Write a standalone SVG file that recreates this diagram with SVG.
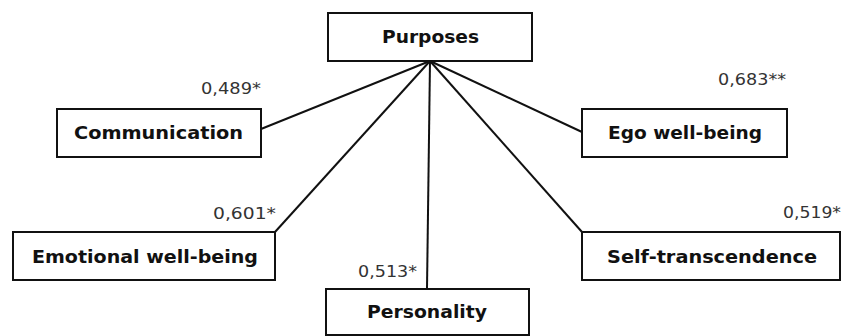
<svg xmlns="http://www.w3.org/2000/svg" width="842" height="336" viewBox="0 0 842 336">
<style>
.box{fill:#fff;stroke:#111;stroke-width:2}
.lbl{font-family:"DejaVu Sans",sans-serif;font-weight:bold;font-size:17px;fill:#111;text-anchor:middle}
.num{font-family:"DejaVu Sans",sans-serif;font-size:15px;fill:#333;text-anchor:end}
.con{stroke:#111;stroke-width:2;fill:none}
</style>
<rect width="842" height="336" fill="#fff"/>
<g id="connectors">
<line class="con" x1="430" y1="61" x2="261" y2="129"/>
<line class="con" x1="430" y1="61" x2="275" y2="232"/>
<line class="con" x1="430" y1="61" x2="427" y2="289"/>
<line class="con" x1="430" y1="61" x2="582" y2="232"/>
<line class="con" x1="430" y1="61" x2="582" y2="132"/>
</g>
<g id="purposes">
<rect class="box" x="328" y="13" width="204" height="48"/>
<text class="lbl" x="430.5" y="43" textLength="97" lengthAdjust="spacingAndGlyphs">Purposes</text>
</g>
<g id="communication">
<rect class="box" x="57" y="109" width="204" height="48"/>
<text class="lbl" x="158.5" y="139" textLength="169" lengthAdjust="spacingAndGlyphs">Communication</text>
</g>
<g id="ego">
<rect class="box" x="582" y="109" width="205" height="48"/>
<text class="lbl" x="685" y="139" textLength="154" lengthAdjust="spacingAndGlyphs">Ego well-being</text>
</g>
<g id="emotional">
<rect class="box" x="13" y="232" width="262" height="48"/>
<text class="lbl" x="145" y="263" textLength="226" lengthAdjust="spacingAndGlyphs">Emotional well-being</text>
</g>
<g id="self">
<rect class="box" x="582" y="232" width="258" height="48"/>
<text class="lbl" x="712" y="263" textLength="210" lengthAdjust="spacingAndGlyphs">Self-transcendence</text>
</g>
<g id="personality">
<rect class="box" x="326" y="289" width="203" height="46"/>
<text class="lbl" x="427" y="318" textLength="120" lengthAdjust="spacingAndGlyphs">Personality</text>
</g>
<g id="labels">
<text class="num" x="261" y="94" textLength="60" lengthAdjust="spacingAndGlyphs">0,489*</text>
<text class="num" x="786" y="85" textLength="68" lengthAdjust="spacingAndGlyphs">0,683**</text>
<text class="num" x="276" y="219" textLength="63" lengthAdjust="spacingAndGlyphs">0,601*</text>
<text class="num" x="417" y="277" textLength="59" lengthAdjust="spacingAndGlyphs">0,513*</text>
<text class="num" x="841" y="218" textLength="58" lengthAdjust="spacingAndGlyphs">0,519*</text>
</g>
</svg>
